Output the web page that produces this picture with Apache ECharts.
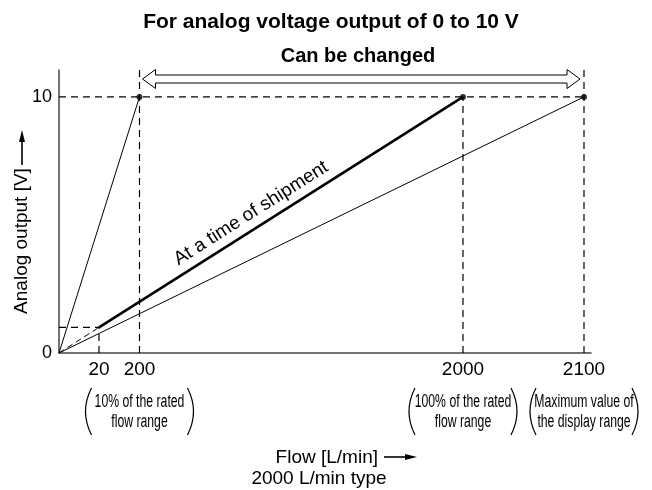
<!DOCTYPE html>
<html>
<head>
<meta charset="utf-8">
<script src="https://cdn.jsdelivr.net/npm/echarts@6/dist/echarts.min.js"></script>
<style>
  html, body { margin: 0; padding: 0; background: #fff; }
  #chart { width: 652px; height: 490px; }
</style>
</head>
<body>
<div id="chart"></div>
<script>
  // flow tick values [L/min] and voltage ticks [V]
  const flowTicks = [20, 200, 2000, 2100]
  const voltTicks = [0, 10]

  // the drawing is a schematic: flow knots and where they sit on the axis
  const flowKnots = [0, 20, 200, 2000, 2100]
  const axisKnots = [0, 40, 80.5, 404, 525]
  const axisEnd = 532
  const voltTop = 11.05

  // curves [flow, volt]
  const lineSteep = [[0, 0], [200, 10]]
  const lineShipment = [[20, 1], [2000, 10]]
  const lineMaxRange = [[0, 0], [2100, 10]]
  const lineToStart = [[0, 0], [20, 1]]
  const endPoints = [[200, 10], [2000, 10], [2100, 10]]

  // dashed guide lines
  const guides = [
    [[0, 10], [2100, 10]],
    [[0, 1], [20, 1]],
    [[20, 0], [20, 1]],
    [[200, 0], [200, voltTop]],
    [[2000, 0], [2000, 10]],
    [[2100, 0], [2100, voltTop]],
  ]

  // notes under the ticks
  const tickNotes = [
    { flow: 200, lines: ['10% of the rated', 'flow range'] },
    { flow: 2000, lines: ['100% of the rated', 'flow range'] },
    { flow: 2100, lines: ['Maximum value of', 'the display range'] },
  ]

  function toAxis(f) {
    for (let i = 1; i < flowKnots.length; i++) {
      if (f <= flowKnots[i]) {
        const t = (f - flowKnots[i - 1]) / (flowKnots[i] - flowKnots[i - 1])
        return axisKnots[i - 1] + t * (axisKnots[i] - axisKnots[i - 1])
      }
    }
    return axisKnots[axisKnots.length - 1]
  }
  const conv = (arr) => arr.map((p) => [toAxis(p[0]), p[1]])

  const font = 'Liberation Sans, Arial, sans-serif'

  const chart = echarts.init(document.getElementById('chart'))

  const plain = (name, data, width, type) => ({
    name,
    type: 'line',
    data: conv(data),
    symbol: 'none',
    silent: true,
    animation: false,
    lineStyle: { color: '#000', width: width, type: type || 'solid' },
    z: 3,
  })

  const series = [
    plain('steep', lineSteep, 1),
    plain('max', lineMaxRange, 1),
    plain('shipment', lineShipment, 2.6),
    plain('start', lineToStart, 1, [6, 4]),
  ]
  guides.forEach((g, i) => {
    series.push(plain('guide' + i, g, 1.2, [7, 5]))
  })
  series.push({
    type: 'scatter',
    data: conv(endPoints),
    symbolSize: 6,
    itemStyle: { color: '#000' },
    animation: false,
    z: 5,
  })

  chart.setOption({
    animation: false,
    grid: { left: 59, right: 61, top: 70, bottom: 137 },
    xAxis: {
      type: 'value',
      min: 0,
      max: axisEnd,
      splitLine: { show: false },
      axisTick: { show: false },
      axisLine: { lineStyle: { color: '#444', width: 1.5 } },
      axisLabel: {
        customValues: flowTicks.map(toAxis),
        formatter: (v) => {
          let best = flowTicks[0]
          flowTicks.forEach((f) => {
            if (Math.abs(toAxis(f) - v) < Math.abs(toAxis(best) - v)) best = f
          })
          return String(best)
        },
        color: '#000',
        fontSize: 19,
        fontFamily: font,
        margin: 7,
      },
    },
    yAxis: {
      type: 'value',
      min: 0,
      max: voltTop,
      splitLine: { show: false },
      axisTick: { show: false },
      axisLine: { show: true, lineStyle: { color: '#444', width: 1.5 } },
      axisLabel: {
        customValues: voltTicks,
        color: '#000',
        fontSize: 18,
        fontFamily: font,
        margin: 7,
      },
    },
    series,
  })

  // annotations anchored to axis positions
  const px = (f, v) => chart.convertToPixel({ gridIndex: 0 }, [toAxis(f), v])
  const graphics = []

  graphics.push({
    type: 'text',
    x: 331,
    y: 22,
    style: {
      text: 'For analog voltage output of 0 to 10 V',
      font: 'bold 21px ' + font,
      fill: '#000',
      align: 'center',
      verticalAlign: 'middle',
    },
  })

  const a = px(200, 0)[0] + 3
  const b = px(2100, 0)[0] - 4
  graphics.push({
    type: 'text',
    x: 358,
    y: 56,
    style: { text: 'Can be changed', font: 'bold 20px ' + font, fill: '#000', align: 'center', verticalAlign: 'middle' },
  })
  const cy = 79, hh = 9.5, sh = 4, hl = 13
  graphics.push({
    type: 'polygon',
    shape: {
      points: [
        [a, cy], [a + hl, cy - hh], [a + hl, cy - sh], [b - hl, cy - sh], [b - hl, cy - hh],
        [b, cy], [b - hl, cy + hh], [b - hl, cy + sh], [a + hl, cy + sh], [a + hl, cy + hh],
      ],
    },
    style: { fill: '#fff', stroke: '#000', lineWidth: 1 },
    z: 10,
  })

  // label along the shipment line
  const s0 = px(lineShipment[0][0], lineShipment[0][1])
  const s1 = px(lineShipment[1][0], lineShipment[1][1])
  const ang = Math.atan2(s0[1] - s1[1], s1[0] - s0[0])
  const tm = 0.44
  const mx = s0[0] + (s1[0] - s0[0]) * tm
  const my = s0[1] + (s1[1] - s0[1]) * tm
  graphics.push({
    type: 'text',
    x: mx - Math.sin(ang) * 15,
    y: my - Math.cos(ang) * 15,
    rotation: ang,
    style: { text: 'At a time of shipment', font: '19px ' + font, fill: '#000', align: 'center', verticalAlign: 'middle' },
  })

  // notes in round brackets under the ticks
  tickNotes.forEach((n) => {
    const cx = px(n.flow, 0)[0]
    graphics.push({
      type: 'text',
      x: cx,
      y: 412,
      scaleX: 0.68,
      style: {
        text: n.lines.join('\n'),
        font: '18px ' + font,
        lineHeight: 20,
        fill: '#000',
        align: 'center',
        verticalAlign: 'middle',
      },
    })
    const w = 53
    const top = 388, bot = 435, mid = (top + bot) / 2
    graphics.push({
      type: 'bezierCurve',
      shape: { x1: cx - w + 5, y1: top, x2: cx - w + 5, y2: bot, cpx1: cx - w - 7, cpy1: mid },
      style: { stroke: '#000', lineWidth: 1.2, fill: null },
    })
    graphics.push({
      type: 'bezierCurve',
      shape: { x1: cx + w - 5, y1: top, x2: cx + w - 5, y2: bot, cpx1: cx + w + 7, cpy1: mid },
      style: { stroke: '#000', lineWidth: 1.2, fill: null },
    })
  })

  // x axis name with arrow
  graphics.push({
    type: 'text',
    x: 378,
    y: 458,
    style: { text: 'Flow [L/min]', font: '19px ' + font, fill: '#000', align: 'right', verticalAlign: 'middle' },
  })
  graphics.push({
    type: 'line',
    shape: { x1: 384, y1: 457, x2: 408, y2: 457 },
    style: { stroke: '#000', lineWidth: 1.6 },
  })
  graphics.push({
    type: 'polygon',
    shape: { points: [[405, 454], [417, 457], [405, 460]] },
    style: { fill: '#000' },
  })
  graphics.push({
    type: 'text',
    x: 319,
    y: 479,
    style: { text: '2000 L/min type', font: '19px ' + font, fill: '#000', align: 'center', verticalAlign: 'middle' },
  })

  // y axis name with arrow
  graphics.push({
    type: 'text',
    x: 22,
    y: 241,
    rotation: Math.PI / 2,
    style: { text: 'Analog output [V]', font: '19px ' + font, fill: '#000', align: 'center', verticalAlign: 'middle' },
  })
  graphics.push({
    type: 'line',
    shape: { x1: 22, y1: 165, x2: 22, y2: 140 },
    style: { stroke: '#000', lineWidth: 1.6 },
  })
  graphics.push({
    type: 'polygon',
    shape: { points: [[19, 142], [22, 130], [25, 142]] },
    style: { fill: '#000' },
  })

  chart.setOption({ graphic: graphics })
</script>
</body>
</html>
